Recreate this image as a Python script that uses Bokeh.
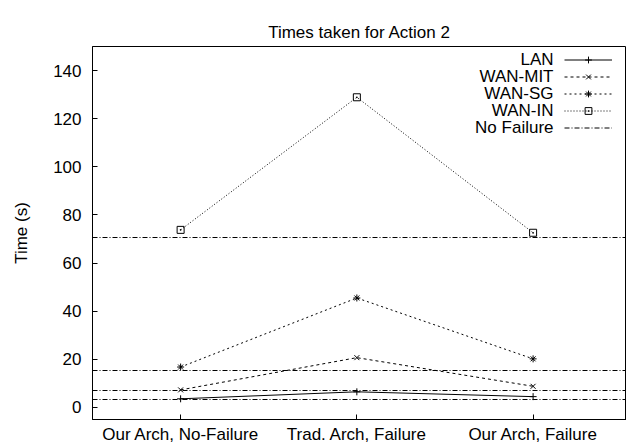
from bokeh.plotting import figure
from bokeh.models import Range1d, FixedTicker, Legend, LegendItem, Label
from bokeh.embed import file_html
from bokeh.resources import INLINE

# ---- data ----
categories = ["Our Arch, No-Failure", "Trad. Arch, Failure", "Our Arch, Failure"]
lan = [3.6, 6.5, 4.5]
wan_mit = [7.3, 20.7, 8.8]
wan_sg = [16.8, 45.5, 20.2]
wan_in = [73.8, 128.9, 72.6]
no_failure = [3.4, 7.0, 15.5, 70.8]
y_ticks = [0, 20, 40, 60, 80, 100, 120, 140]
series_names = ["LAN", "WAN-MIT", "WAN-SG", "WAN-IN"]
no_failure_name = "No Failure"
title_text = "Times taken for Action 2"
y_label = "Time (s)"

FONT = "Liberation Sans"
FS = "17px"

x = list(range(len(categories)))

W, H = 626, 446
BL, BR, BT, BB = 92, 0, 46, 25
p = figure(width=W, height=H, output_backend="svg", toolbar_location=None,
           x_range=Range1d(-0.5, 2.53), y_range=Range1d(-5, 150),
           min_border_left=BL, min_border_right=BR, min_border_top=BT, min_border_bottom=BB)

p.outline_line_color = "black"
p.xgrid.visible = False
p.ygrid.visible = False

p.title.text = title_text
p.title.align = "center"
p.title.text_font = FONT
p.title.text_font_size = FS
p.title.text_font_style = "normal"
p.title.text_color = "black"
p.title.standoff = 10

def style_axis(ax):
    ax.axis_line_color = "black"
    ax.major_tick_line_color = "black"
    ax.major_tick_in = 5
    ax.major_tick_out = 0
    ax.minor_tick_line_color = None
    ax.major_label_text_font = FONT
    ax.major_label_text_font_size = FS
    ax.major_label_text_color = "black"

xa = p.xaxis[0]
xa.ticker = FixedTicker(ticks=x)
xa.major_label_overrides = {i: c for i, c in zip(x, categories)}
style_axis(xa)
xa.major_label_standoff = 5

ya = p.yaxis[0]
ya.ticker = FixedTicker(ticks=y_ticks)
style_axis(ya)
ya.major_label_standoff = 11
ya.axis_label = y_label
ya.axis_label_text_font = FONT
ya.axis_label_text_font_size = FS
ya.axis_label_text_font_style = "normal"
ya.axis_label_text_color = "black"
ya.axis_label_standoff = 19

series = [lan, wan_mit, wan_sg, wan_in]
dashes = ["solid", "3 3", "2 3", "1 2"]
markers = ["cross", "x", "asterisk", "square_dot"]

items = []
for name, vals, dash, mk in zip(series_names, series, dashes, markers):
    lr = p.line(x, vals, line_color="black", line_width=1, line_dash=dash)
    sr = p.scatter(x, vals, marker=mk, size=7, line_color="black", fill_color=None, line_width=1)
    items.append(LegendItem(label="", renderers=[lr, sr]))

nf = p.hspan(y=no_failure, line_color="black", line_width=1, line_dash="5 2 1 2")
items.append(LegendItem(label="", renderers=[nf]))

# legend geometry (screen px, relative to the frame's bottom-left)
frame_h = H - BT - BB
row_h = 17
leg_top = 52.5 - BT          # from frame top
n = len(items)
leg_bottom_y = frame_h - leg_top - n * row_h
glyph_x = 472

legend = Legend(items=items, location=(glyph_x, leg_bottom_y), glyph_width=48, glyph_height=row_h,
                label_height=row_h, label_width=0, label_standoff=0, spacing=0, padding=0, margin=0,
                border_line_color=None, background_fill_alpha=0,
                label_text_font=FONT, label_text_font_size=FS, label_text_color="black")
p.add_layout(legend, "center")

for i, name in enumerate(series_names + [no_failure_name]):
    yy = frame_h - leg_top - (i + 0.5) * row_h
    p.add_layout(Label(x=glyph_x - 11, y=yy, x_units="screen", y_units="screen", text=name,
                       text_align="right", text_baseline="middle", text_font=FONT,
                       text_font_size=FS, text_color="black"))

open("out.html", "w").write(file_html(p, INLINE))
